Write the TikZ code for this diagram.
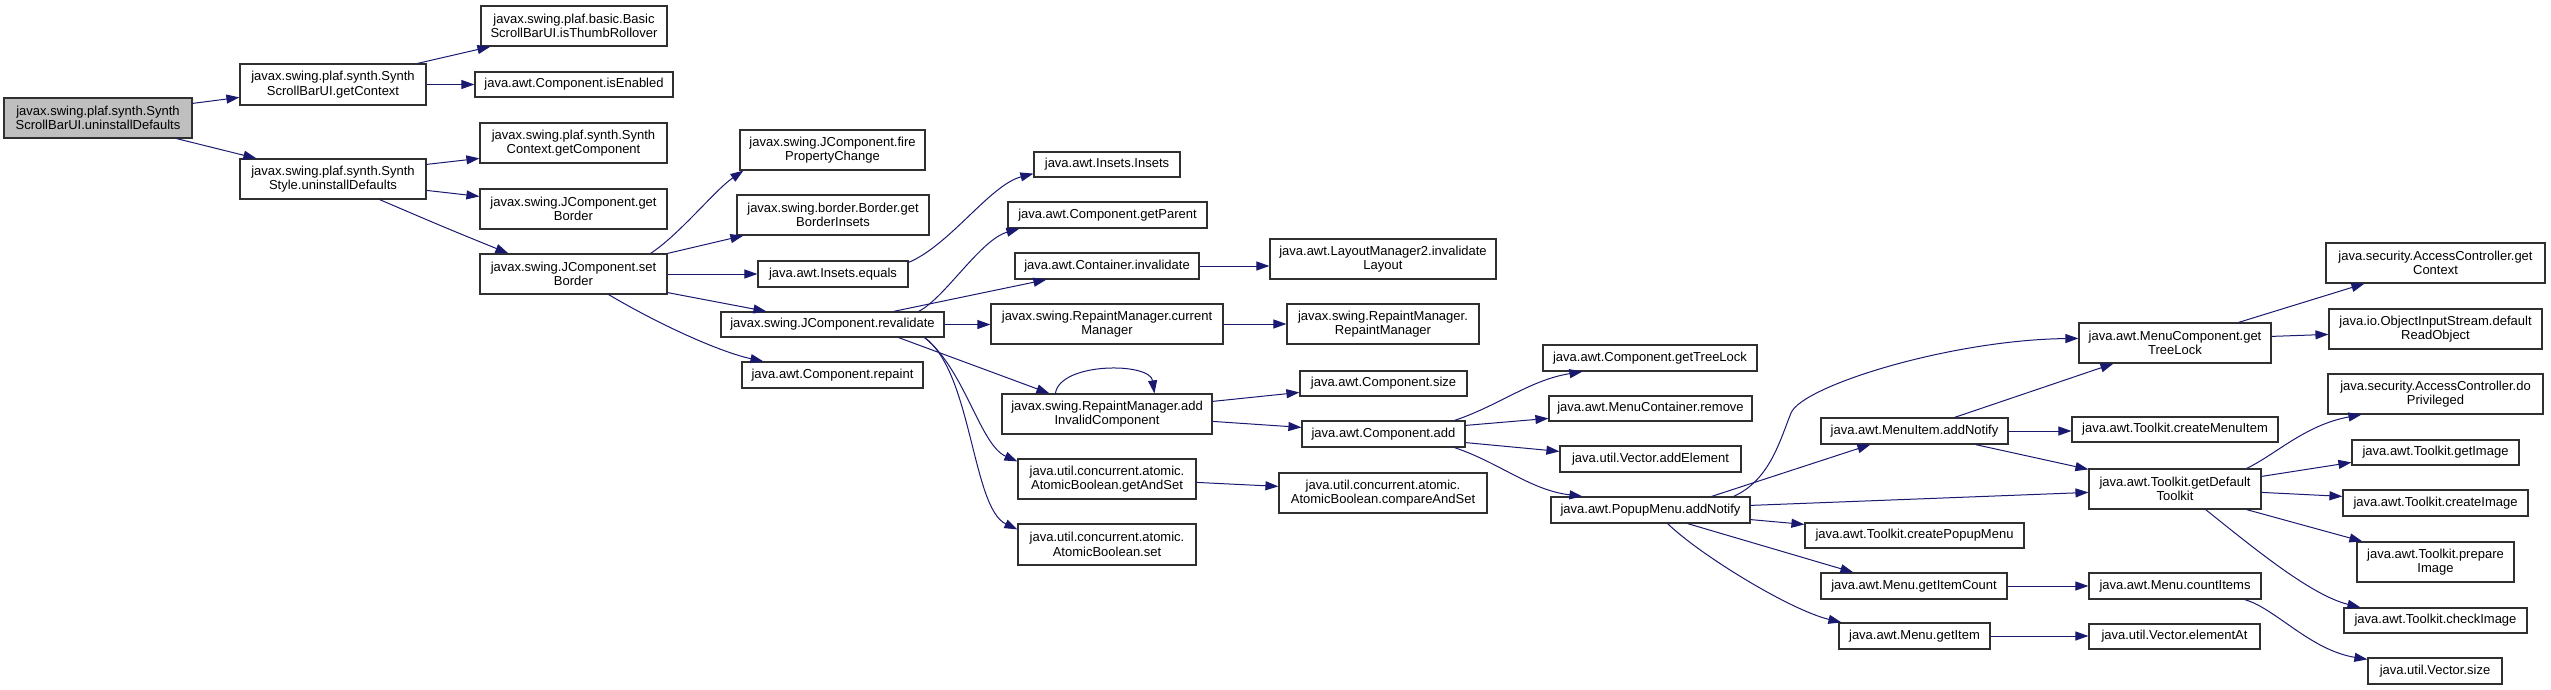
\documentclass[tikz,border=0pt]{standalone}
\usepackage{fontspec}
\setmainfont{Liberation Sans}
\usetikzlibrary{arrows.meta}
\definecolor{edgeblue}{HTML}{191970}
\definecolor{boxline}{HTML}{303030}
\definecolor{rootfill}{HTML}{BFBFBF}
\tikzset{
  box/.style={draw=boxline, line width=1.2pt, fill=white, inner sep=0pt, align=center,
    font=\fontsize{13}{14.5}\selectfont},
  rootbox/.style={box, fill=rootfill},
  arr/.style={draw=edgeblue, line width=1pt, -{Triangle[length=13pt,width=9pt]}},
}
\newcommand{\mybox}[7][box]{%
  \pgfmathsetmacro\bw{#5-#3}\pgfmathsetmacro\bh{#6-#4}%
  \pgfmathsetmacro\bcx{(#3+#5)/2}\pgfmathsetmacro\bcy{(#4+#6)/2}%
  \node[#1, minimum width=\bw pt, minimum height=\bh pt] (#2) at (\bcx,\bcy) {#7};}
\begin{document}
\begin{tikzpicture}[x=1pt,y=-1pt]
\useasboundingbox (0,0) rectangle (2551,690);
% nodes
\mybox[rootbox]{root}{4}{98}{192}{138}{javax.swing.plaf.synth.Synth\\ScrollBarUI.uninstallDefaults}
\mybox{gc}{240}{64}{426}{105}{javax.swing.plaf.synth.Synth\\ScrollBarUI.getContext}
\mybox{itr}{481}{6}{667}{46}{javax.swing.plaf.basic.Basic\\ScrollBarUI.isThumbRollover}
\mybox{ien}{475}{72}{673}{97}{java.awt.Component.isEnabled}
\mybox{ssu}{240}{159}{426}{199}{javax.swing.plaf.synth.Synth\\Style.uninstallDefaults}
\mybox{scgc}{480}{123}{667}{163}{javax.swing.plaf.synth.Synth\\Context.getComponent}
\mybox{jgb}{480}{189}{667}{229}{javax.swing.JComponent.get\\Border}
\mybox{jsb}{480}{254}{667}{294}{javax.swing.JComponent.set\\Border}
\mybox{fpc}{740}{130}{925}{170}{javax.swing.JComponent.fire\\PropertyChange}
\mybox{bgbi}{737}{195}{929}{235}{javax.swing.border.Border.get\\BorderInsets}
\mybox{ieq}{758}{261}{908}{287}{java.awt.Insets.equals}
\mybox{rev}{721}{312}{944}{337}{javax.swing.JComponent.revalidate}
\mybox{crp}{742}{362}{923}{388}{java.awt.Component.repaint}
\mybox{ins}{1034}{152}{1180}{177}{java.awt.Insets.Insets}
\mybox{gpar}{1008}{202}{1207}{228}{java.awt.Component.getParent}
\mybox{cinv}{1015}{253}{1199}{279}{java.awt.Container.invalidate}
\mybox{lm2}{1270}{239}{1496}{279}{java.awt.LayoutManager2.invalidate\\Layout}
\mybox{rcm}{991}{304}{1223}{344}{javax.swing.RepaintManager.current\\Manager}
\mybox{rmrm}{1287}{304}{1479}{344}{javax.swing.RepaintManager.\\RepaintManager}
\mybox{aic}{1002}{394}{1212}{434}{javax.swing.RepaintManager.add\\InvalidComponent}
\mybox{gas}{1018}{459}{1196}{499}{java.util.concurrent.atomic.\\AtomicBoolean.getAndSet}
\mybox{abs}{1018}{524}{1196}{565}{java.util.concurrent.atomic.\\AtomicBoolean.set}
\mybox{cas}{1279}{473}{1487}{513}{java.util.concurrent.atomic.\\AtomicBoolean.compareAndSet}
\mybox{csz}{1300}{371}{1467}{396}{java.awt.Component.size}
\mybox{cadd}{1302}{421}{1465}{447}{java.awt.Component.add}
\mybox{cgtl}{1543}{345}{1757}{371}{java.awt.Component.getTreeLock}
\mybox{mcr}{1549}{396}{1752}{421}{java.awt.MenuContainer.remove}
\mybox{vae}{1560}{446}{1741}{472}{java.util.Vector.addElement}
\mybox{pman}{1551}{497}{1750}{523}{java.awt.PopupMenu.addNotify}
\mybox{mian}{1821}{418}{2008}{444}{java.awt.MenuItem.addNotify}
\mybox{tcpm}{1805}{523}{2024}{548}{java.awt.Toolkit.createPopupMenu}
\mybox{mgic}{1821}{573}{2007}{599}{java.awt.Menu.getItemCount}
\mybox{mgi}{1839}{623}{1990}{649}{java.awt.Menu.getItem}
\mybox{mcgtl}{2079}{323}{2271}{363}{java.awt.MenuComponent.get\\TreeLock}
\mybox{acgc}{2326}{243}{2545}{283}{java.security.AccessController.get\\Context}
\mybox{oisd}{2329}{309}{2542}{349}{java.io.ObjectInputStream.default\\ReadObject}
\mybox{acdp}{2328}{374}{2543}{414}{java.security.AccessController.do\\Privileged}
\mybox{tcmi}{2072}{417}{2278}{442}{java.awt.Toolkit.createMenuItem}
\mybox{tgdt}{2089}{469}{2261}{509}{java.awt.Toolkit.getDefault\\Toolkit}
\mybox{tgi}{2352}{440}{2519}{465}{java.awt.Toolkit.getImage}
\mybox{tci}{2343}{490}{2528}{516}{java.awt.Toolkit.createImage}
\mybox{tpi}{2357}{542}{2514}{582}{java.awt.Toolkit.prepare\\Image}
\mybox{tchk}{2344}{608}{2527}{633}{java.awt.Toolkit.checkImage}
\mybox{mci}{2089}{573}{2261}{599}{java.awt.Menu.countItems}
\mybox{vea}{2089}{624}{2260}{649}{java.util.Vector.elementAt}
\mybox{vsz}{2368}{658}{2502}{684}{java.util.Vector.size}
% edges
\draw[arr] ([yshift=-6pt]root.north east) -- ([yshift=-34pt]gc.north west);
\draw[arr] ([xshift=-16pt]root.south east) -- ([xshift=17pt]ssu.north west);
\draw[arr] ([xshift=-9pt]gc.north east) -- ([xshift=10pt]itr.south west);
\draw[arr] (gc.east) -- (gc.east -| ien.west);
\draw[arr] ([yshift=-6pt]ssu.north east) -- ([yshift=-36pt]scgc.north west);
\draw[arr] ([yshift=-32pt]ssu.north east) -- ([yshift=-8pt]jgb.north west);
\draw[arr] ([xshift=-47pt]ssu.south east) .. controls (446,228) .. ([xshift=29pt]jsb.north west);
\draw[arr] ([xshift=-17pt]jsb.north east) .. controls (680,234) and (715,190) .. ([xshift=4pt]fpc.south west);
\draw[arr] (jsb.north east) -- ([xshift=7pt]bgbi.south west);
\draw[arr] (jsb.east) -- (jsb.east -| ieq.west);
\draw[arr] ([yshift=2pt]jsb.south east) -- ([xshift=46pt]rev.north west);
\draw[arr] ([xshift=-59pt]jsb.south east) .. controls (660,325) and (720,352) .. ([xshift=22pt]crp.north west);
\draw[arr] ([yshift=-2pt]ieq.north east) .. controls (950,245) and (990,185) .. ([yshift=4pt]ins.south west);
\draw[arr] ([xshift=-26pt]rev.north east) .. controls (945,298) and (980,240) .. ([xshift=12pt]gpar.south west);
\draw[arr] ([xshift=-51pt]rev.north east) -- ([xshift=32pt]cinv.south west);
\draw[arr] (rev.east) -- (rev.east -| rcm.west);
\draw[arr] ([xshift=-46pt]rev.south east) -- ([xshift=48pt]aic.north west);
\draw[arr] ([xshift=54pt]aic.north west) .. controls (1060,362) and (1150,362) .. ([xshift=153pt]aic.north west);
\draw[arr] ([xshift=-20pt]rev.south east) .. controls (965,370) and (980,445) .. ([yshift=-3pt]gas.north west);
\draw[arr] ([xshift=-20pt]rev.south east) .. controls (972,372) and (972,508) .. ([yshift=-6pt]abs.north west);
\draw[arr] (cinv.east) -- (cinv.east -| lm2.west);
\draw[arr] (rcm.east) -- (rcm.east -| rmrm.west);
\draw[arr] ([yshift=-8pt]aic.north east) -- ([yshift=-22pt]csz.north west);
\draw[arr] ([yshift=-28pt]aic.north east) -- ([yshift=-7pt]cadd.north west);
\draw[arr] ([yshift=-24pt]gas.north east) -- ([yshift=-14pt]cas.north west);
\draw[arr] ([xshift=-11pt]cadd.north east) .. controls (1500,405) and (1530,380) .. ([xshift=40pt]cgtl.south west);
\draw[arr] ([yshift=-5pt]cadd.north east) -- ([yshift=-23pt]mcr.north west);
\draw[arr] ([yshift=5pt]cadd.south east) -- ([yshift=-6pt]vae.north west);
\draw[arr] ([xshift=-11pt]cadd.south east) .. controls (1500,463) and (1530,490) .. ([xshift=32pt]pman.north west);
\draw[arr] ([xshift=-17pt]pman.north east) .. controls (1770,480) and (1780,440) .. (1791,413)
   .. controls (1802,386) and (1950,340) .. ([yshift=-16pt]mcgtl.north west);
\draw[arr] ([xshift=-39pt]pman.north east) -- ([xshift=50pt]mian.south west);
\draw[arr] ([yshift=-9pt]pman.north east) -- ([yshift=-24pt]tgdt.north west);
\draw[arr] ([yshift=4pt]pman.south east) -- ([yshift=-2pt]tcpm.north west);
\draw[arr] ([xshift=-63pt]pman.south east) -- ([xshift=33pt]mgic.north west);
\draw[arr] ([xshift=-83pt]pman.south east) .. controls (1700,555) and (1790,610) .. ([xshift=3pt]mgi.north west);
\draw[arr] ([xshift=-54pt]mian.north east) -- ([xshift=35pt]mcgtl.south west);
\draw[arr] (mian.east) -- (mian.east -| tcmi.west);
\draw[arr] ([xshift=-33pt]mian.south east) -- ([yshift=-1pt]tgdt.north west);
\draw[arr] ([xshift=-33pt]mcgtl.north east) -- ([xshift=39pt]acgc.south west);
\draw[arr] ([yshift=-14pt]mcgtl.north east) -- ([yshift=-26pt]oisd.north west);
\draw[arr] ([xshift=-15pt]tgdt.north east) .. controls (2275,455) and (2305,425) .. ([xshift=34pt]acdp.south west);
\draw[arr] ([yshift=-8pt]tgdt.north east) -- ([yshift=-23pt]tgi.north west);
\draw[arr] ([yshift=-24pt]tgdt.north east) -- ([yshift=-7pt]tci.north west);
\draw[arr] ([xshift=-15pt]tgdt.south east) -- ([xshift=6pt]tpi.north west);
\draw[arr] ([xshift=-56pt]tgdt.south east) .. controls (2250,545) and (2310,595) .. ([xshift=17pt]tchk.north west);
\draw[arr] (mgic.east) -- (mgic.east -| mci.west);
\draw[arr] (mgi.east) -- (mgi.east -| vea.west);
\draw[arr] ([xshift=-17pt]mci.south east) .. controls (2275,608) and (2310,650) .. ([yshift=-2pt]vsz.north west);
\end{tikzpicture}
\end{document}
